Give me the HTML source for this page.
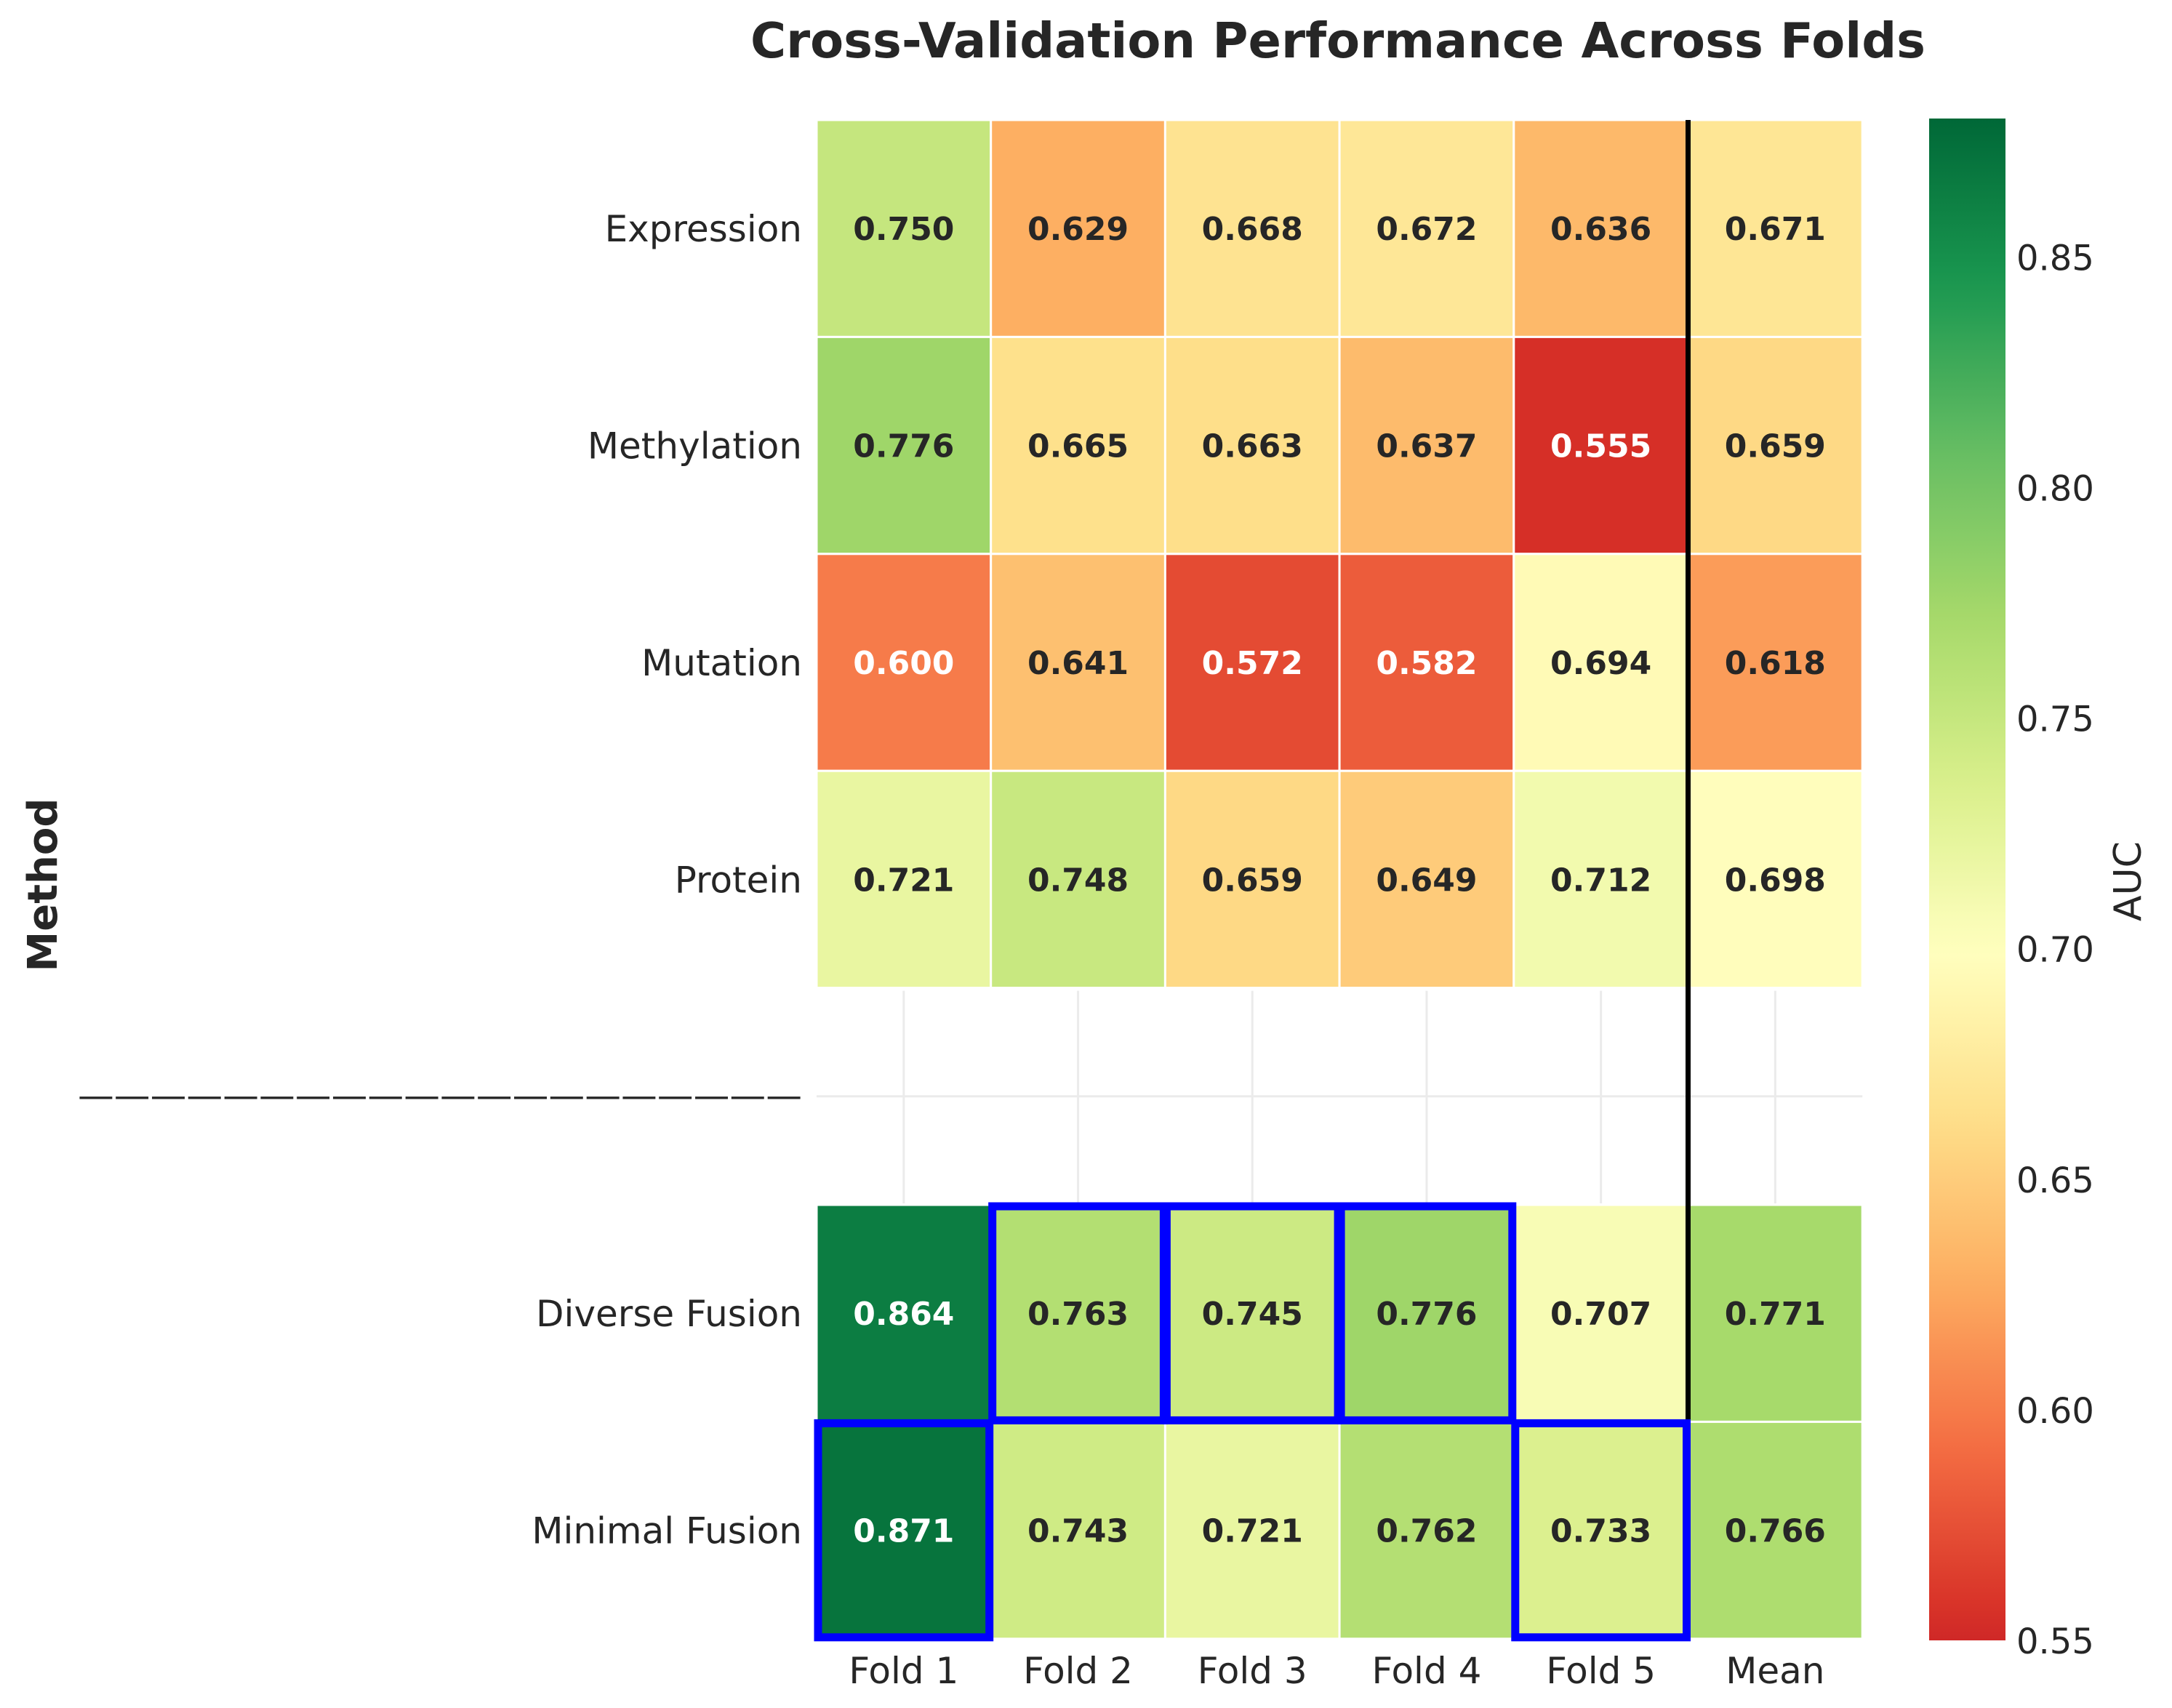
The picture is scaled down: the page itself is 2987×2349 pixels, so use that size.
<!DOCTYPE html>
<html><head><meta charset="utf-8"><style>
html,body{margin:0;padding:0;background:#fff;}
svg{display:block;font-family:"DejaVu Sans","Liberation Sans",sans-serif;}
</style></head><body>
<svg id="chart" width="2987" height="2349" viewBox="0 0 2987 2349" xmlns="http://www.w3.org/2000/svg">
<defs><linearGradient id="cbgrad" x1="0" y1="1" x2="0" y2="0"></linearGradient></defs>
<text x="1840" y="79" text-anchor="middle" font-size="67" font-weight="bold" fill="#262626">Cross-Validation Performance Across Folds</text>
<text transform="translate(78,1217) rotate(-90)" text-anchor="middle" font-size="56" font-weight="bold" fill="#262626">Method</text>
<text transform="translate(2944,1212) rotate(-90)" text-anchor="middle" font-size="52" fill="#262626">AUC</text>
<g id="grid"></g><g id="cells"></g><g id="labels"></g><g id="highlights"></g><g id="cbar"></g>
</svg>
<script>
const rows = ["Expression","Methylation","Mutation","Protein","","Diverse Fusion","Minimal Fusion"];
const cols = ["Fold 1","Fold 2","Fold 3","Fold 4","Fold 5","Mean"];
const expressionVals = [0.750,0.629,0.668,0.672,0.636,0.671];
const methylationVals = [0.776,0.665,0.663,0.637,0.555,0.659];
const mutationVals = [0.600,0.641,0.572,0.582,0.694,0.618];
const proteinVals = [0.721,0.748,0.659,0.649,0.712,0.698];
const diverseVals = [0.864,0.763,0.745,0.776,0.707,0.771];
const minimalVals = [0.871,0.743,0.721,0.762,0.733,0.766];
const cbTicks = [0.55,0.60,0.65,0.70,0.75,0.80,0.85];
const highlightCells = [[5,1],[5,2],[5,3],[6,0],[6,4]];
const data = [expressionVals,methylationVals,mutationVals,proteinVals,null,diverseVals,minimalVals];
const vmin=0.55, vmax=0.88, cmin=0.52, cmax=0.88;
const L=1123, T=165, CW=239.7, RH=298.4;
const NS="http://www.w3.org/2000/svg";
const stops=["#a50026","#d73027","#f46d43","#fdae61","#fee08b","#ffffbf","#d9ef8b","#a6d96a","#66bd63","#1a9850","#006837"].map(h=>[1,3,5].map(i=>parseInt(h.substr(i,2),16)));
function rgb(v){let t=(v-cmin)/(cmax-cmin);t=Math.max(0,Math.min(1,t))*10;const i=Math.min(9,Math.floor(t)),f=t-i;return stops[i].map((c,k)=>Math.round(c+(stops[i+1][k]-c)*f));}
function col(v){const c=rgb(v);return `rgb(${c[0]},${c[1]},${c[2]})`;}
function lum(v){const c=rgb(v).map(x=>{x/=255;return x<=0.03928?x/12.92:Math.pow((x+0.055)/1.055,2.4);});return 0.2126*c[0]+0.7152*c[1]+0.0722*c[2];}
function x(j){return L+j*CW;} function y(i){return T+i*RH;}
function mk(tag,attrs,parent){const e=document.createElementNS(NS,tag);for(const k in attrs)e.setAttribute(k,attrs[k]);parent.appendChild(e);return e;}
const grid=document.getElementById('grid'),cells=document.getElementById('cells'),labels=document.getElementById('labels'),hl=document.getElementById('highlights'),cb=document.getElementById('cbar');
cols.forEach((c,j)=>{const g=mk('line',{x1:x(j)+CW/2,x2:x(j)+CW/2,y1:y(4)+4,y2:y(5)-2,stroke:'#ebebeb','stroke-width':3},grid);

});
const hg=mk('line',{x1:L,x2:x(6),y1:y(4)+RH/2,y2:y(4)+RH/2,stroke:'#ebebeb','stroke-width':3},grid);


data.forEach((r,i)=>{if(!r)return;r.forEach((v,j)=>{
const rc=mk('rect',{x:x(j),y:y(i),width:CW,height:RH,fill:col(v),stroke:'#fff','stroke-width':3},cells);


const t=mk('text',{x:x(j)+CW/2,y:y(i)+RH/2+16,'text-anchor':'middle','font-size':44,'font-weight':'bold',fill:lum(v)>0.408?'#262626':'#ffffff'},cells);
t.textContent=v.toFixed(3);

});});
rows.forEach((r,i)=>{if(!r)return;const t=mk('text',{x:1103,y:y(i)+RH/2+18,'text-anchor':'end','font-size':50,fill:'#262626'},labels);t.textContent=r;

});
const sep=mk('text',{x:107,y:y(4)+RH/2+15,'font-size':48,fill:'#262626',textLength:996,lengthAdjust:'spacingAndGlyphs'},labels);
sep.textContent='————————————————————';


cols.forEach((c,j)=>{const t=mk('text',{x:x(j)+CW/2,y:2315,'text-anchor':'middle','font-size':50,fill:'#262626'},labels);t.textContent=c;

});
const bl=mk('line',{x1:x(5),x2:x(5),y1:T,y2:y(7),stroke:'#000','stroke-width':7},hl);


highlightCells.forEach(([i,j])=>{const r=mk('rect',{x:x(j)+2,y:y(i)+2,width:CW-4,height:RH-4,fill:'none',stroke:'#0000ff','stroke-width':11},hl);

});
const grad=document.getElementById('cbgrad');
for(let k=0;k<=40;k++){const v=vmin+(vmax-vmin)*k/40;mk('stop',{offset:k/40,'stop-color':col(v)},grad);}
const CBX=2653,CBW=105,CBT=163,CBB=2256;
function cy(v){return CBB-(v-vmin)/(vmax-vmin)*(CBB-CBT);}
const cbr=mk('rect',{x:CBX,y:CBT,width:CBW,height:CBB-CBT,fill:'url(#cbgrad)'},cb);


cbTicks.forEach(v=>{const t=mk('text',{x:2773,y:cy(v)+18,'font-size':48,fill:'#262626'},cb);t.textContent=v.toFixed(2);

});
</script>
</body></html>
